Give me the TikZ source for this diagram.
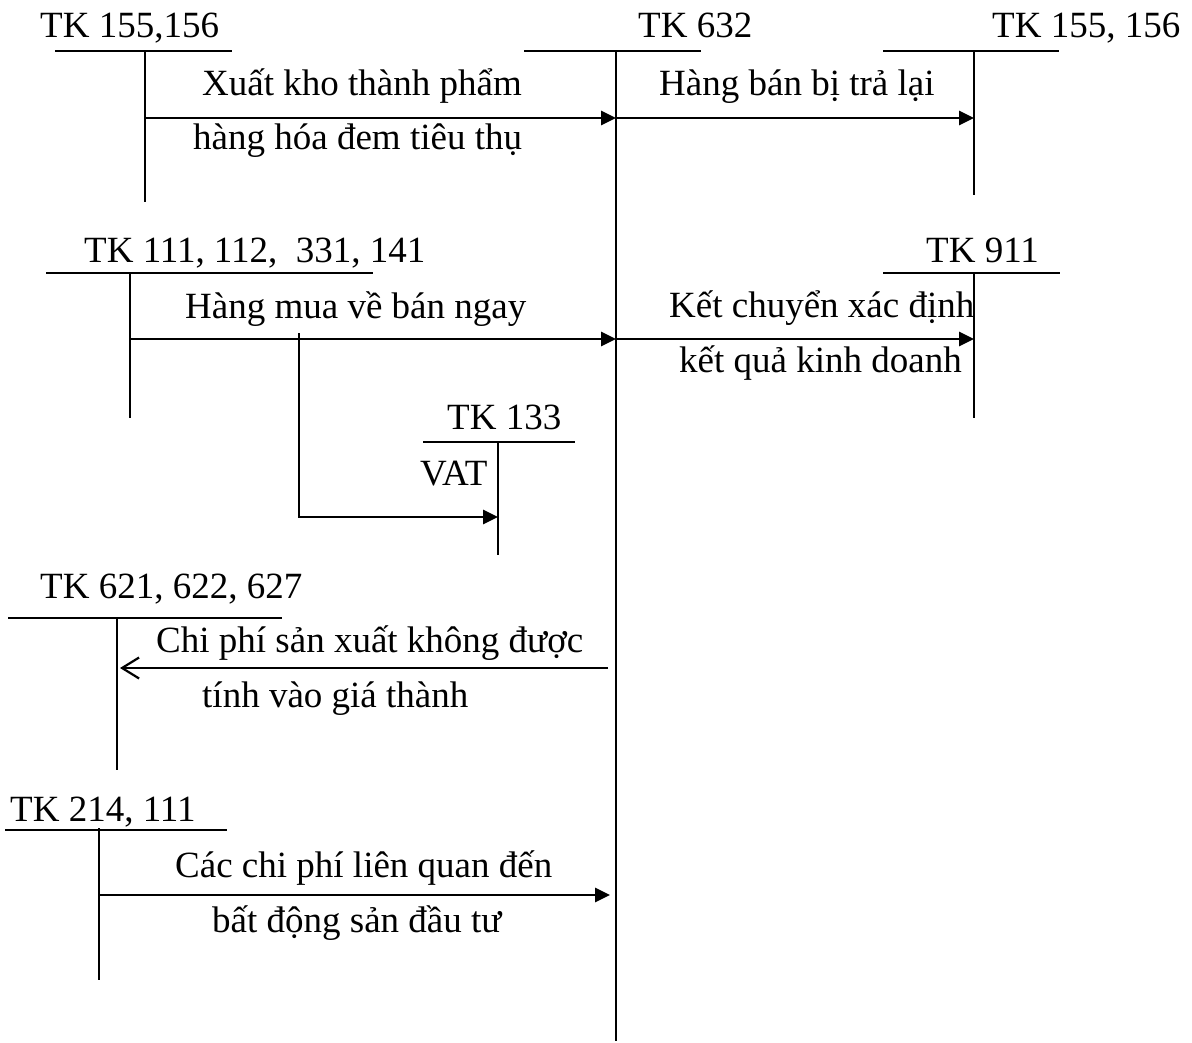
\documentclass[tikz,border=0pt]{standalone}
\usepackage{fontspec}
\setmainfont{Liberation Serif}
\usetikzlibrary{arrows.meta}
\begin{document}
\begin{tikzpicture}[x=1pt,y=-1pt,
  lbl/.style={inner sep=0pt, anchor=base west, font=\fontsize{37}{44}\selectfont},
  acctop/.style={line width=2.2pt},
  accstem/.style={line width=1.8pt},
  flow/.style={line width=2.7pt, -{Triangle[length=15pt,width=14pt]}},
  flowback/.style={line width=2.7pt, -{Straight Barb[length=17pt,width=21pt,line width=2.2pt]}},
]
\useasboundingbox (0,0) rectangle (1192,1043);

% ---- T-account TK 155,156 (source, top left)
\node[lbl] (tkA) at (40,38) {TK 155,156};
\coordinate (tkA-l) at (55,51);
\coordinate (tkA-r) at (232,51);
\coordinate (tkA-t) at (145,51);
\coordinate (tkA-b) at (145,202);
\coordinate (tkA-o) at (145,118);
\draw[acctop] (tkA-l) -- (tkA-r);
\draw[accstem] (tkA-t) -- (tkA-b);

% ---- T-account TK 632 (central)
\node[lbl] (tkM) at (638,38) {TK 632};
\coordinate (tkM-l) at (524,51);
\coordinate (tkM-r) at (701,51);
\coordinate (tkM-t) at (616,51);
\coordinate (tkM-b) at (616,1041);
\draw[acctop] (tkM-l) -- (tkM-r);
\draw[accstem] (tkM-t) -- (tkM-b);
\coordinate (tkM-i1) at (616,118);
\coordinate (tkM-i2) at (616,339);
\coordinate (tkM-o3) at (608,668);
\coordinate (tkM-i4) at (610,895);

% ---- T-account TK 155, 156 (top right)
\node[lbl] (tkR) at (992,38) {TK 155, 156};
\coordinate (tkR-l) at (883,51);
\coordinate (tkR-r) at (1059,51);
\coordinate (tkR-t) at (974,51);
\coordinate (tkR-b) at (974,195);
\coordinate (tkR-i) at (974,118);
\draw[acctop] (tkR-l) -- (tkR-r);
\draw[accstem] (tkR-t) -- (tkR-b);

% ---- T-account TK 111, 112, 331, 141
\node[lbl] (tkB) at (84,263) {TK 111, 112,\ \ 331, 141};
\coordinate (tkB-l) at (46,273);
\coordinate (tkB-r) at (373,273);
\coordinate (tkB-t) at (130,273);
\coordinate (tkB-b) at (130,418);
\coordinate (tkB-o) at (130,339);
\draw[acctop] (tkB-l) -- (tkB-r);
\draw[accstem] (tkB-t) -- (tkB-b);

% ---- T-account TK 911
\node[lbl] (tkK) at (926,263) {TK 911};
\coordinate (tkK-l) at (883,273);
\coordinate (tkK-r) at (1060,273);
\coordinate (tkK-t) at (974,273);
\coordinate (tkK-b) at (974,418);
\coordinate (tkK-i) at (974,339);
\draw[acctop] (tkK-l) -- (tkK-r);
\draw[accstem] (tkK-t) -- (tkK-b);

% ---- T-account TK 133
\node[lbl] (tkV) at (447,429) {TK 133};
\coordinate (tkV-l) at (423,442);
\coordinate (tkV-r) at (575,442);
\coordinate (tkV-t) at (498,442);
\coordinate (tkV-b) at (498,555);
\coordinate (tkV-i) at (498,517);
\draw[acctop] (tkV-l) -- (tkV-r);
\draw[accstem] (tkV-t) -- (tkV-b);

% ---- T-account TK 621, 622, 627
\node[lbl] (tkC) at (40,598) {TK 621, 622, 627};
\coordinate (tkC-l) at (8,618);
\coordinate (tkC-r) at (282,618);
\coordinate (tkC-t) at (117,618);
\coordinate (tkC-b) at (117,770);
\coordinate (tkC-i) at (120,668);
\draw[acctop] (tkC-l) -- (tkC-r);
\draw[accstem] (tkC-t) -- (tkC-b);

% ---- T-account TK 214, 111
\node[lbl] (tkD) at (10,821) {TK 214, 111};
\coordinate (tkD-l) at (5,830);
\coordinate (tkD-r) at (227,830);
\coordinate (tkD-t) at (99,828);
\coordinate (tkD-b) at (99,980);
\coordinate (tkD-o) at (99,895);
\draw[acctop] (tkD-l) -- (tkD-r);
\draw[accstem] (tkD-t) -- (tkD-b);

% ---- Flows
\draw[flow] (tkA-o) -- (tkM-i1);
\node[lbl] (f1a) at (202,96) {Xuất kho thành phẩm};
\node[lbl] (f1b) at (193,150) {hàng hóa đem tiêu thụ};

\draw[flow] (tkM-i1) -- (tkR-i);
\node[lbl] (f2a) at (659,96) {Hàng bán bị trả lại};

\draw[flow] (tkB-o) -- (tkM-i2);
\node[lbl] (f3a) at (185,318) {Hàng mua về bán ngay};

\coordinate (vat-s) at (299,333);
\coordinate (vat-c) at (299,517);
\draw[flow] (vat-s) -- (vat-c) -- (tkV-i);
\node[lbl] (f3v) at (420,485) {VAT};

\draw[flow] (tkM-i2) -- (tkK-i);
\node[lbl] (f4a) at (669,317) {Kết chuyển xác định};
\node[lbl] (f4b) at (679,372) {kết quả kinh doanh};

\draw[flowback] (tkM-o3) -- (tkC-i);
\node[lbl] (f5a) at (156,652) {Chi phí sản xuất không được};
\node[lbl] (f5b) at (202,707) {tính vào giá thành};

\draw[flow] (tkD-o) -- (tkM-i4);
\node[lbl] (f6a) at (175,877) {Các chi phí liên quan đến};
\node[lbl] (f6b) at (212,932) {bất động sản đầu tư};
\end{tikzpicture}
\end{document}
